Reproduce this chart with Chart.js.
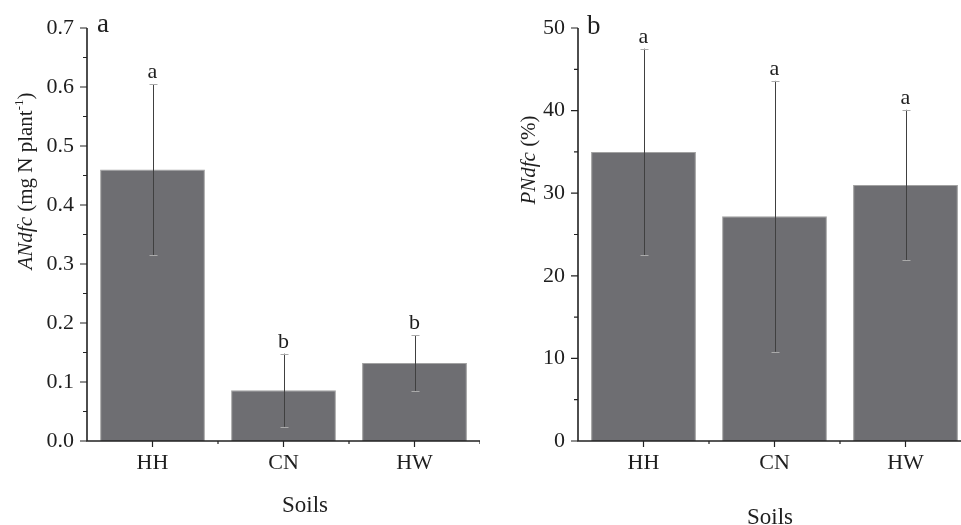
<!DOCTYPE html>
<html>
<head>
<meta charset="utf-8">
<script src="https://cdn.jsdelivr.net/npm/chart.js@4/dist/chart.umd.min.js"></script>
<style>
  html, body { margin: 0; padding: 0; background: #fff; overflow: hidden; width: 961px; height: 525px; }
  #wrapA { position: absolute; left: 0; top: 0; width: 480px; height: 525px; }
  #wrapB { position: absolute; left: 480px; top: 0; width: 491px; height: 525px; }
</style>
</head>
<body>
<div id="wrapA"><canvas id="chartA" width="480" height="525"></canvas></div>
<div id="wrapB"><canvas id="chartB" width="491" height="525"></canvas></div>
<script>
// ---- data ----
const categories = ['HH', 'CN', 'HW'];
const andfcValues = [0.46, 0.086, 0.132];
const andfcErrors = [0.145, 0.062, 0.047];
const andfcLetters = ['a', 'b', 'b'];
const andfcTicks = [0, 0.1, 0.2, 0.3, 0.4, 0.5, 0.6, 0.7];
const pndfcValues = [35.0, 27.2, 31.0];
const pndfcErrors = [12.5, 16.4, 9.1];
const pndfcLetters = ['a', 'a', 'a'];
const pndfcTicks = [0, 10, 20, 30, 40, 50];

const SERIF = "'Liberation Serif', 'Times New Roman', serif";
const AXIS_COLOR = '#222222';

function drawRotatedTitle(ctx, cx, cy, parts) {
  ctx.save();
  ctx.translate(cx, cy);
  ctx.rotate(-Math.PI / 2);
  ctx.fillStyle = '#1e1e1e';
  ctx.textBaseline = 'alphabetic';
  ctx.textAlign = 'left';
  let total = 0;
  parts.forEach(p => { ctx.font = p.font; p.w = ctx.measureText(p.text).width; total += p.w; });
  let x = -total / 2;
  parts.forEach(p => { ctx.font = p.font; ctx.fillText(p.text, x, p.dy || 0); x += p.w; });
  ctx.restore();
}

function makeDecor(cfg) {
  return {
    id: 'decor_' + cfg.name,
    afterDatasetsDraw(chart) {
      const ctx = chart.ctx;
      const area = chart.chartArea;
      const ys = chart.scales.y;
      const xs = chart.scales.x;
      const meta = chart.getDatasetMeta(0);
      ctx.save();
      // error bars
      meta.data.forEach((bar, i) => {
        const v = cfg.values[i], e = cfg.errors[i];
        const yt = ys.getPixelForValue(v + e);
        const yb = ys.getPixelForValue(v - e);
        const x = Math.round(bar.x) + 0.5;
        ctx.strokeStyle = '#404040';
        ctx.lineWidth = 1;
        ctx.beginPath(); ctx.moveTo(x, yt); ctx.lineTo(x, yb); ctx.stroke();
        ctx.strokeStyle = '#aaaaaa';
        ctx.beginPath();
        ctx.moveTo(x - 4, Math.round(yt) + 0.5); ctx.lineTo(x + 4, Math.round(yt) + 0.5);
        ctx.moveTo(x - 4, Math.round(yb) + 0.5); ctx.lineTo(x + 4, Math.round(yb) + 0.5);
        ctx.stroke();
        // letters
        ctx.fillStyle = '#1e1e1e';
        ctx.font = '22px ' + SERIF;
        ctx.textAlign = 'center';
        ctx.textBaseline = 'alphabetic';
        ctx.fillText(cfg.letters[i], bar.x, yt - 6);
      });
      // axes
      ctx.strokeStyle = AXIS_COLOR;
      ctx.lineWidth = 1.6;
      ctx.beginPath();
      ctx.moveTo(area.left, area.top); ctx.lineTo(area.left, area.bottom);
      ctx.lineTo(area.right, area.bottom);
      ctx.stroke();
      // y ticks (major + minor)
      ctx.lineWidth = 1.2;
      ctx.beginPath();
      for (let i = 0; i < cfg.ticks.length; i++) {
        const py = ys.getPixelForValue(cfg.ticks[i]);
        ctx.moveTo(area.left - 7, py); ctx.lineTo(area.left, py);
        if (i < cfg.ticks.length - 1) {
          const pm = ys.getPixelForValue((cfg.ticks[i] + cfg.ticks[i + 1]) / 2);
          ctx.moveTo(area.left - 4, pm); ctx.lineTo(area.left, pm);
        }
      }
      // x ticks
      for (let i = 0; i < categories.length; i++) {
        const px = xs.getPixelForValue(i);
        ctx.moveTo(px, area.bottom); ctx.lineTo(px, area.bottom + 6);
        const pb = xs.getPixelForValue(i + 0.5);
        ctx.moveTo(pb, area.bottom); ctx.lineTo(pb, area.bottom + 3);
      }
      ctx.stroke();
      // panel label
      ctx.fillStyle = '#1e1e1e';
      ctx.font = '27px ' + SERIF;
      ctx.textAlign = 'left';
      ctx.textBaseline = 'alphabetic';
      ctx.fillText(cfg.panel, cfg.panelX, cfg.panelY);
      // x title
      ctx.font = '23px ' + SERIF;
      ctx.textAlign = 'center';
      ctx.fillText('Soils', cfg.soilsX, cfg.soilsY);
      // y title
      drawRotatedTitle(ctx, cfg.titleX, cfg.titleY, cfg.titleParts);
      ctx.restore();
    }
  };
}

function makeChart(id, cfg) {
  return new Chart(document.getElementById(id), {
    type: 'bar',
    data: {
      labels: categories,
      datasets: [{
        data: cfg.values,
        backgroundColor: '#6e6e72',
        borderColor: '#a2a2a2',
        borderWidth: 1,
        barPercentage: 0.8,
        categoryPercentage: 1.0
      }]
    },
    options: {
      responsive: false,
      animation: false,
      devicePixelRatio: 1,
      layout: { padding: { top: 28, right: 0, left: 0, bottom: 0 } },
      plugins: { legend: { display: false }, tooltip: { enabled: false } },
      scales: {
        x: {
          grid: { display: false, drawTicks: false },
          border: { display: false },
          ticks: { font: { family: SERIF, size: 22 }, color: '#1e1e1e', padding: 9, maxRotation: 0 },
          afterFit: s => { s.height = 84; }
        },
        y: {
          min: 0,
          max: cfg.ticks[cfg.ticks.length - 1],
          grid: { display: false, drawTicks: false },
          border: { display: false },
          afterBuildTicks: s => { s.ticks = cfg.ticks.map(v => ({ value: v })); },
          ticks: {
            font: { family: SERIF, size: 22 }, color: '#1e1e1e', padding: 13,
            callback: v => cfg.fmt(v)
          },
          afterFit: s => { s.width = cfg.yWidth; }
        }
      }
    },
    plugins: [makeDecor(cfg)]
  });
}

makeChart('chartA', {
  name: 'A', values: andfcValues, errors: andfcErrors, letters: andfcLetters,
  ticks: andfcTicks, fmt: v => Number(v).toFixed(1), yWidth: 87,
  panel: 'a', panelX: 97, panelY: 32,
  soilsX: 305, soilsY: 512,
  titleX: 32, titleY: 181,
  titleParts: [
    { text: 'ANdfc', font: 'italic 21px ' + SERIF },
    { text: ' (mg N plant', font: '21px ' + SERIF },
    { text: '-1', font: '13px ' + SERIF, dy: -9 },
    { text: ')', font: '21px ' + SERIF }
  ]
});

makeChart('chartB', {
  name: 'B', values: pndfcValues, errors: pndfcErrors, letters: pndfcLetters,
  ticks: pndfcTicks, fmt: v => String(Math.round(v)), yWidth: 98,
  panel: 'b', panelX: 107, panelY: 34,
  soilsX: 290, soilsY: 524,
  titleX: 55, titleY: 160,
  titleParts: [
    { text: 'PNdfc', font: 'italic 21px ' + SERIF },
    { text: ' (%)', font: '21px ' + SERIF }
  ]
});
</script>
</body>
</html>
